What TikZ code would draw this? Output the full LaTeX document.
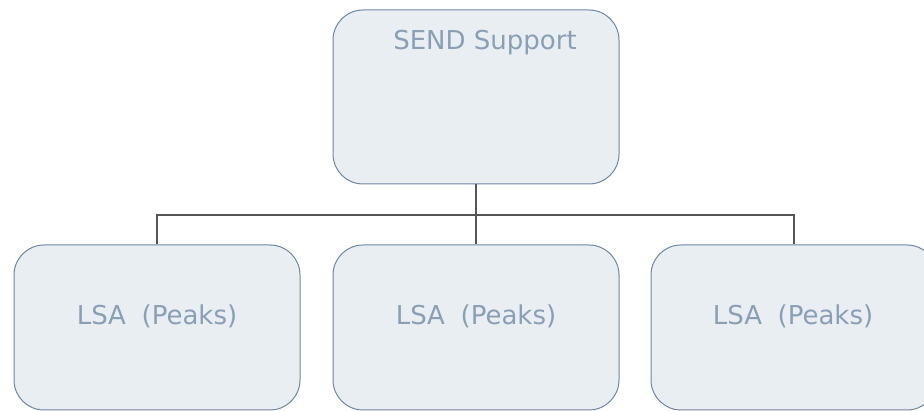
\documentclass[tikz,border=0pt]{standalone}
\usepackage{fontspec}
\setmainfont{DejaVu Sans}
\definecolor{boxfill}{HTML}{E9EEF2}
\definecolor{boxline}{HTML}{6F86A6}
\definecolor{boxtext}{HTML}{8A9FB6}
\definecolor{conn}{HTML}{555555}
\begin{document}
\begin{tikzpicture}[x=1pt,y=-1pt,
  orgbox/.style={draw=boxline, fill=boxfill, line width=1pt, rounded corners=30pt,
    minimum width=286pt, inner sep=0pt},
  orgtext/.style={text=boxtext, font=\fontsize{26}{31}\selectfont, anchor=base, inner sep=0pt},
  conline/.style={draw=conn, line width=1.2pt}]
\useasboundingbox (0,0) rectangle (924,411);
\clip (0,0) rectangle (924,411);
\fill[white] (0,0) rectangle (924,411);
\node[orgbox, minimum height=174pt] (top) at (476,97) {};
\node[orgbox, minimum height=165pt] (b1) at (157,327.5) {};
\node[orgbox, minimum height=165pt] (b2) at (476,327.5) {};
\node[orgbox, minimum height=165pt] (b3) at (794,327.5) {};
\node[orgtext] (t0) at (485,50) {SEND Support};
\node[orgtext] (t1) at (157,325) {LSA\hspace{0.6em}(Peaks)};
\node[orgtext] (t2) at (476,325) {LSA\hspace{0.6em}(Peaks)};
\node[orgtext] (t3) at (793,325) {LSA\hspace{0.6em}(Peaks)};
\coordinate (j) at (476,215);
\draw[conline] (top.south) -- (j);
\draw[conline] (j) -| (b1.north);
\draw[conline] (j) -- (b2.north);
\draw[conline] (j) -| (b3.north);
\end{tikzpicture}
\end{document}
